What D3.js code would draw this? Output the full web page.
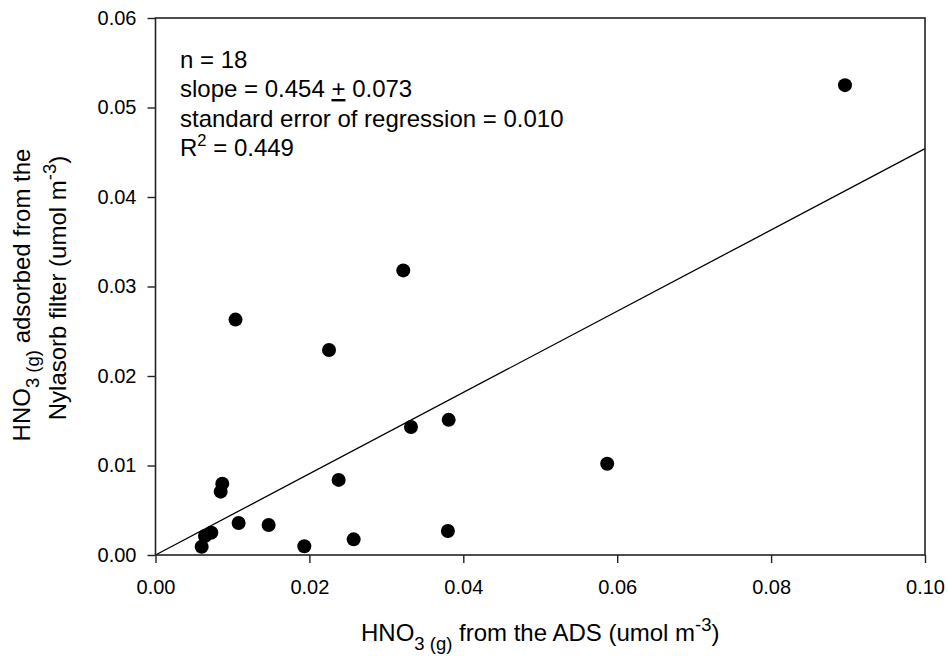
<!DOCTYPE html>
<html>
<head>
<meta charset="utf-8">
<script src="https://cdn.jsdelivr.net/npm/d3@7"></script>
<style>
  html, body { margin: 0; padding: 0; background: #fff; }
  svg { display: block; }
  text { font-family: "Liberation Sans", Arial, sans-serif; fill: #000; }
</style>
</head>
<body>
<svg id="chart" width="948" height="656"></svg>
<script>
// HNO3(g) measured by the ADS vs. HNO3(g) recovered from the Nylasorb filter (umol m-3)
const adsValues = [0.0322, 0.0104, 0.02255, 0.0332, 0.0381, 0.00868, 0.00847, 0.0238, 0.0108,
                   0.0147, 0.00726, 0.00643, 0.0060, 0.01934, 0.02575, 0.0380, 0.0587, 0.0896];
const filterValues = [0.0318, 0.0263, 0.0229, 0.0143, 0.0151, 0.00797, 0.00708, 0.00839, 0.00358,
                      0.00335, 0.00250, 0.00212, 0.00093, 0.00097, 0.00175, 0.00268, 0.0102, 0.0525];
const xTicks = [0, 0.02, 0.04, 0.06, 0.08, 0.10];
const yTicks = [0, 0.01, 0.02, 0.03, 0.04, 0.05, 0.06];
const xDomain = [0, 0.10];
const yDomain = [0, 0.06];
// regression through the origin
const slope = 0.454;
const statsLines = ["n = 18", "slope = 0.454 ", "+", " 0.073",
                    "standard error of regression = 0.010", "R", "2", " = 0.449"];

const svg = d3.select("#chart");
const tickFs = 20;      // tick label size
const fs = 24;          // titles and annotation size
const small = 18.5;     // sub/superscript size
const plotLeft = 155.5, plotRight = 925, plotTop = 18, plotBottom = 555;

const x = d3.scaleLinear().domain(xDomain).range([plotLeft, plotRight]);
const y = d3.scaleLinear().domain(yDomain).range([plotBottom, plotTop]);

// axes
const xAxis = svg.append("g")
  .attr("transform", `translate(0,${plotBottom})`)
  .call(d3.axisBottom(x).tickValues(xTicks).tickFormat(d3.format(".2f"))
        .tickSize(8).tickSizeOuter(0).tickPadding(17));
const yAxis = svg.append("g")
  .attr("transform", `translate(${plotLeft},0)`)
  .call(d3.axisLeft(y).tickValues(yTicks).tickFormat(d3.format(".2f"))
        .tickSize(8).tickSizeOuter(0).tickPadding(11));
[xAxis, yAxis].forEach(g => {
  g.select(".domain").remove();
  g.selectAll(".tick line").attr("stroke", "#222").attr("stroke-width", 1.4);
  g.selectAll(".tick text").attr("font-size", tickFs)
    .attr("font-family", "'Liberation Sans', Arial, sans-serif").attr("fill", "#000");
});

// regression line
svg.append("line")
  .attr("x1", x(xDomain[0])).attr("y1", y(slope * xDomain[0]))
  .attr("x2", x(xDomain[1])).attr("y2", y(slope * xDomain[1]))
  .attr("stroke", "#000").attr("stroke-width", 1.3);

// data points
svg.append("g").selectAll("circle")
  .data(adsValues.map((v, i) => [v, filterValues[i]]))
  .join("circle")
  .attr("cx", d => x(d[0]))
  .attr("cy", d => y(d[1]))
  .attr("r", 7)
  .attr("fill", "#000");

// plot frame
svg.append("rect")
  .attr("x", plotLeft).attr("y", plotTop)
  .attr("width", plotRight - plotLeft).attr("height", plotBottom - plotTop)
  .attr("fill", "none").attr("stroke", "#222").attr("stroke-width", 1.6);

// text placed at (px, py), optionally rotated
function label(px, py, rot, anchor) {
  return svg.append("text")
    .attr("transform", `translate(${px},${py}) rotate(${rot})`)
    .attr("text-anchor", anchor).attr("font-size", fs);
}

// regression statistics
const lineY = [67.5, 97, 126.5, 156];
label(180, lineY[0], 0, "start").text(statsLines[0]);
const s2 = label(180, lineY[1], 0, "start");
s2.append("tspan").text(statsLines[1]);
s2.append("tspan").style("text-decoration", "underline").text(statsLines[2]);
s2.append("tspan").text(statsLines[3]);
label(180, lineY[2], 0, "start").text(statsLines[4]);
const s4 = label(180, lineY[3], 0, "start");
s4.append("tspan").text(statsLines[5]);
s4.append("tspan").attr("font-size", small - 2).attr("dy", -10).text(statsLines[6]);
s4.append("tspan").attr("dy", 10).text(statsLines[7]);

// x axis title
const xt = label((plotLeft + plotRight) / 2, 641, 0, "middle");
xt.append("tspan").text("HNO");
xt.append("tspan").attr("font-size", small).attr("dy", 9).text("3 (g)");
xt.append("tspan").attr("dy", -9).text(" from the ADS (umol m");
xt.append("tspan").attr("font-size", small).attr("dy", -10).text("-3");
xt.append("tspan").attr("dy", 10).text(")");

// y axis title (two lines)
const yt1 = label(30, 295, -90, "middle");
yt1.append("tspan").text("HNO");
yt1.append("tspan").attr("font-size", small).attr("dy", 9).text("3 (g)");
yt1.append("tspan").attr("dy", -9).text(" adsorbed from the");
const yt2 = label(66, 288, -90, "middle");
yt2.append("tspan").text("Nylasorb filter (umol m");
yt2.append("tspan").attr("font-size", small).attr("dy", -10).text("-3");
yt2.append("tspan").attr("dy", 10).text(")");
</script>
</body>
</html>
